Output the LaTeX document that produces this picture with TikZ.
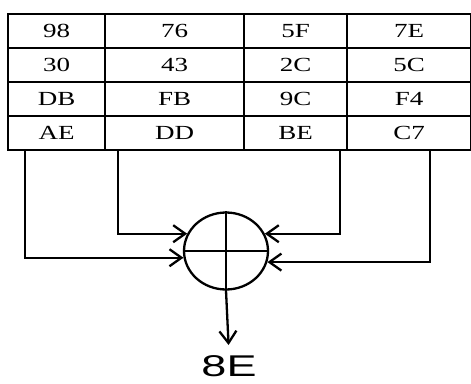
\documentclass[tikz,border=0pt]{standalone}
\usepackage{graphicx}
\usepackage{fontspec}
\setmainfont{Liberation Serif}
\newfontfamily\outfont{Liberation Sans}
\usetikzlibrary{positioning,arrows.meta,shapes.geometric}
\newcommand{\wide}[1]{\scalebox{1.35}[1]{#1}}

\begin{document}
\begin{tikzpicture}[
  x=1pt,y=-1pt,
  line width=2.3pt,
  cell/.style={draw,minimum height=34pt,inner sep=0pt,anchor=north west,
               font=\fontsize{20}{22}\selectfont},
  ar/.style={-{Straight Barb[length=12pt,width=17pt,line width=2.3pt]}}
]
\useasboundingbox (0,0) rectangle (471,383);
% --- state table ---
\foreach \row/\a/\b/\c/\d in {1/98/76/5F/7E,2/30/43/2C/5C,3/DB/FB/9C/F4,4/AE/DD/BE/C7}{
  \node[cell,minimum width=97pt]  (c\row1) at (7,{13+34*(\row-1)})   {\wide{\a}};
  \node[cell,minimum width=139pt] (c\row2) at (104,{13+34*(\row-1)}) {\wide{\b}};
  \node[cell,minimum width=103pt] (c\row3) at (243,{13+34*(\row-1)}) {\wide{\c}};
  \node[cell,minimum width=124pt] (c\row4) at (346,{13+34*(\row-1)}) {\wide{\d}};
}
% --- xor ---
\node[draw,ellipse,minimum width=84pt,minimum height=77pt,inner sep=0pt] (xor) at (226,251) {};
\draw (xor.north) -- (xor.south);
\draw (xor.west) -- (xor.east);
% taps on the table bottom
\coordinate (s1) at (25,149);
\coordinate (s2) at (118,149);
\coordinate (s3) at (340,149);
\coordinate (s4) at (430,149);
\draw[ar] (s1) |- (xor.189);
\draw[ar] (s2) |- (xor.156);
\draw[ar] (s3) |- (xor.24);
\draw[ar] (s4) |- (xor.-15);
% output
\node[anchor=north,inner sep=0pt,font=\outfont\fontsize{30}{30}\selectfont] (out) at (229,354) {\scalebox{1.5}[1]{8E}};
\draw[ar] (xor.south) -- (out.north) [shorten >=9pt];
\end{tikzpicture}
\end{document}
